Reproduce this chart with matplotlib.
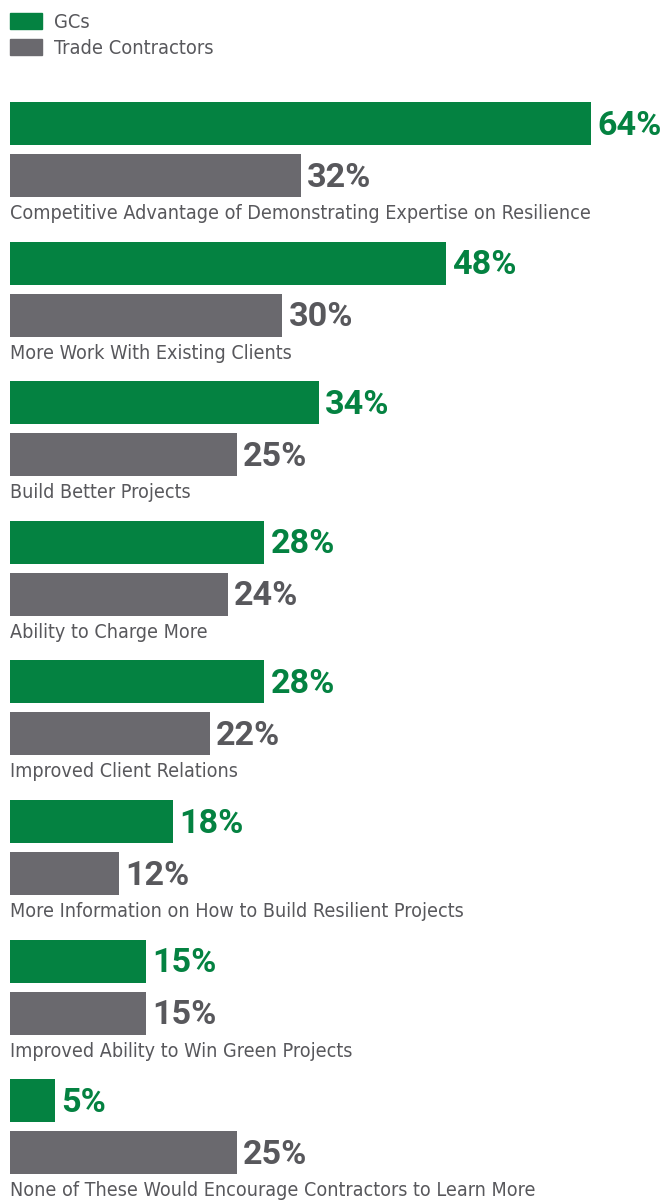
import matplotlib
matplotlib.use("Agg")
import matplotlib.pyplot as plt
from matplotlib.patches import Rectangle
from matplotlib import font_manager
from matplotlib.font_manager import FontProperties

categories = [
    "Competitive Advantage of Demonstrating Expertise on Resilience",
    "More Work With Existing Clients",
    "Build Better Projects",
    "Ability to Charge More",
    "Improved Client Relations",
    "More Information on How to Build Resilient Projects",
    "Improved Ability to Win Green Projects",
    "None of These Would Encourage Contractors to Learn More",
]
gcs = [64, 48, 34, 28, 28, 18, 15, 5]
trade = [32, 30, 25, 24, 22, 12, 15, 25]
series_names = ["GCs", "Trade Contractors"]

GREEN = "#048241"
GRAY = "#6a696e"
TEXT_GRAY = "#58585c"


def pick_condensed_regular():
    """Prefer a condensed/narrow regular sans face; fall back to Roboto."""
    cands = []
    for f in font_manager.fontManager.ttflist:
        low = (f.fname + " " + f.name).lower()
        if ("condensed" in low or "narrow" in low or f.stretch in ("condensed", "semi-condensed")) \
                and "serif" not in f.name.lower() and "mono" not in low and "oblique" not in low \
                and "italic" not in low and "bold" not in low and "light" not in low \
                and f.weight in ("normal", "regular", 400, "book"):
            cands.append(f.fname)
    if cands:
        cands.sort(key=lambda p: ("sans" not in p.lower(), len(p)))
        return FontProperties(fname=cands[0])
    return FontProperties(family="Roboto")


fp_reg = pick_condensed_regular()
fp_bold = FontProperties(family=["Roboto", "DejaVu Sans"], weight="bold")

W, H, DPI = 665, 1201, 100
fig = plt.figure(figsize=(W / DPI, H / DPI), dpi=DPI)
fig.patch.set_facecolor("white")

left_px = 10
px_per_unit = 9.08
spacing_px = 139.6
first_center_px = 123.5

ax = fig.add_axes([left_px / W, 0, (W - left_px) / W, 1])
ax.set_xlim(0, (W - left_px) / px_per_unit)
ax.set_ylim((H - first_center_px) / spacing_px, -first_center_px / spacing_px)
ax.axis("off")

bar_h = 43 / spacing_px
trade_off = 52 / spacing_px
label_off = 90 / spacing_px

idx = list(range(len(categories)))
ax.barh(idx, gcs, height=bar_h, color=GREEN, align="center")
ax.barh([i + trade_off for i in idx], trade, height=bar_h, color=GRAY, align="center")

value_texts, cat_texts, legend_texts = [], [], []
for i, (g, t, cat) in enumerate(zip(gcs, trade, categories)):
    value_texts.append(ax.annotate(f"{g}%", (g, i), xytext=(4.5, -1.5), textcoords="offset points",
                                   va="center", ha="left", fontproperties=fp_bold,
                                   fontsize=22, color=GREEN))
    value_texts.append(ax.annotate(f"{t}%", (t, i + trade_off), xytext=(4.5, -1.5),
                                   textcoords="offset points", va="center", ha="left",
                                   fontproperties=fp_bold, fontsize=22, color=TEXT_GRAY))
    cat_texts.append(ax.text(0, i + label_off, cat, va="center", ha="left",
                             fontproperties=fp_reg, fontsize=14.5, color=TEXT_GRAY))

for k, (name, col) in enumerate(zip(series_names, [GREEN, GRAY])):
    y_top = 13 + k * 26
    fig.patches.append(Rectangle((10 / W, 1 - (y_top + 16) / H), 32 / W, 16 / H,
                                 transform=fig.transFigure, color=col))
    legend_texts.append(fig.text(54 / W, 1 - (y_top + 9) / H, name, va="center", ha="left",
                                 fontproperties=fp_reg, fontsize=14, color=TEXT_GRAY))

# Size the typography so the strings occupy their intended widths
renderer = fig.canvas.get_renderer()


def fit(group, ref, target_px):
    w = ref.get_window_extent(renderer).width
    scale = target_px / w
    for t in group:
        t.set_fontsize(t.get_fontsize() * scale)


fit(cat_texts, cat_texts[0], 577)
fit(value_texts, value_texts[0], 64)
fit(legend_texts, legend_texts[1], 161)

fig.savefig("out.png", dpi=DPI, facecolor="white")
